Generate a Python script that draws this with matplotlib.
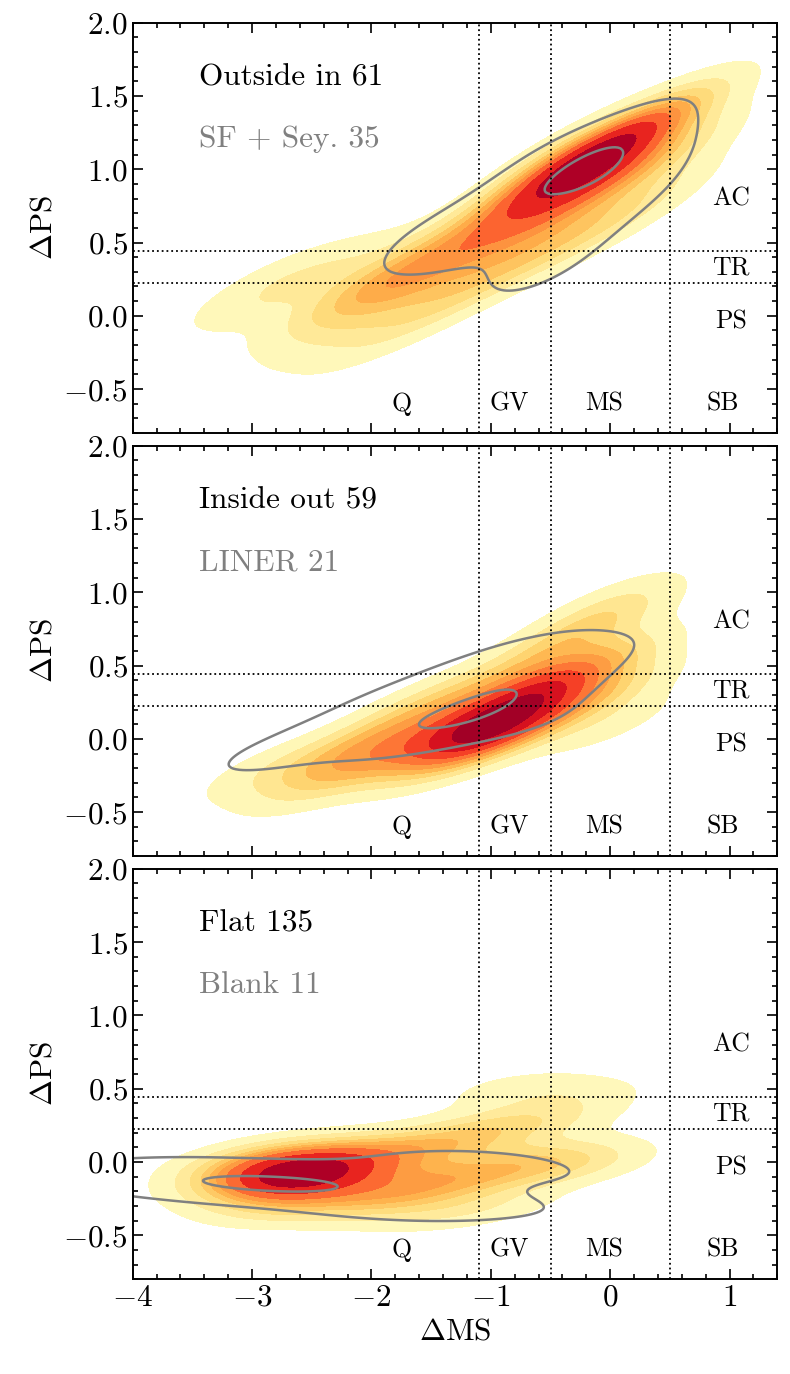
import matplotlib
matplotlib.use("Agg")
import matplotlib.pyplot as plt
from matplotlib.ticker import MultipleLocator
import seaborn as sns

plt.rcParams["font.family"] = "serif"
plt.rcParams["font.serif"] = ["cmr10"]
plt.rcParams["mathtext.fontset"] = "cm"
plt.rcParams["axes.formatter.use_mathtext"] = True

# hand-read sample points (delta MS, delta PS) for each panel
outside_in_x = [-0.5, -0.4, -0.3, -0.2, -0.1, 0.0, 0.1, -0.35, -0.15, 0.05, -0.25, 0.2, -0.6, -0.45, -0.05, -0.2, -0.1, -0.3,
                0.35, 0.45, 0.4, 0.4, 0.3, 0.4,
                -0.8, -0.7, -0.9, -1.0, -0.75, -1.1, -0.55,
                -1.3, -1.5, -1.7, -1.9, -2.1, -1.8, -1.6, -2.0, -1.4,
                -2.5, -2.7, -2.4, -3.0,
                -1.0, -0.4, -0.2, 0.2, -1.5, -2.0, -2.3]
outside_in_y = [0.85, 1.0, 0.9, 1.15, 0.95, 1.15, 1.0, 1.15, 0.85, 1.25, 1.05, 1.2, 0.95, 0.75, 1.05, 1.0, 1.1, 1.0,
                1.35, 1.4, 1.3, 1.05, 0.85, 1.1,
                0.75, 0.6, 0.5, 0.7, 0.4, 0.55, 0.6,
                0.35, 0.45, 0.25, 0.25, 0.15, 0.1, 0.3, 0.35, 0.15,
                0.25, 0.2, 0.05, 0.2,
                0.25, 0.45, 0.6, 0.7, 0.0, -0.15, -0.1]
sf_sey_x = [-0.2, -0.1, -0.25, -0.1, -0.15, -0.2, -0.15,
            0.2, 0.4, 0.5, 0.25, -0.5, -0.6, -0.9, -1.2, -1.5, -1.7, -0.3, -0.6, 0.0, -1.2, -0.85, -0.7, -0.45]
sf_sey_y = [1.0, 1.0, 0.95, 1.05, 0.98, 1.05, 1.0,
            1.25, 1.35, 1.1, 0.85, 1.1, 0.8, 0.68, 0.58, 0.52, 0.45, 0.6, 0.45, 0.75, 0.45, 0.85, 0.3, 0.35]

inside_out_x = [-1.0, -0.9, -1.1, -0.8, -1.2, -0.95, -0.7, -1.3, -1.05, -0.85, -0.6, -1.15,
                -1.5, -1.7, -1.9, -2.1, -2.3, -2.6, -2.9, -1.6, -2.0, -1.4, -2.4,
                -0.5, -0.4, -0.3, -0.2, 0.0, 0.05, -0.15, 0.0, 0.0, -0.6, -0.8, 0.0,
                -1.2, -0.6, -0.3, -1.6]
inside_out_y = [0.1, 0.0, 0.15, 0.2, -0.05, 0.15, 0.25, 0.0, -0.05, 0.05, 0.1, 0.2,
                0.0, -0.15, -0.05, -0.2, -0.1, -0.25, -0.2, 0.1, 0.05, -0.15, -0.3,
                0.35, 0.3, 0.55, 0.45, 0.8, 0.95, 0.25, 0.35, 0.55, 0.45, 0.35, 0.1,
                0.35, 0.6, 0.75, 0.25]
liner_x = [-1.3, -1.2, -1.4, -1.1, -1.6, -2.0, -2.5, -2.9, -0.7, -0.5, -0.35, -0.6, -1.8, -0.9, -1.0, -0.7]
liner_y = [0.15, 0.15, 0.1, 0.18, 0.08, 0.15, -0.05, -0.1, 0.3, 0.45, 0.55, 0.1, 0.3, 0.4, 0.5, 0.6]

flat_x = [-2.6, -2.5, -2.7, -2.4, -2.55, -2.65, -2.45, -2.8, -2.3, -2.2, -2.9, -2.5, -2.6,
          -2.0, -1.8, -1.6, -1.4, -1.2, -1.9, -1.5, -1.7, -2.1, -1.3,
          -1.0, -0.8, -0.6, -0.35, -0.25, -0.5, -0.9, -0.3, -0.8, -1.1,
          -2.9, -2.95, -2.95, -2.9, -3.0,
          -2.0, -1.5, -2.5, -1.0, -2.8]
flat_y = [-0.05, -0.15, -0.12, 0.0, 0.05, -0.2, -0.1, 0.0, -0.15, -0.05, -0.1, -0.05, -0.1,
          -0.15, 0.05, -0.15, 0.0, -0.1, -0.25, -0.2, 0.1, 0.1, 0.15,
          -0.1, 0.05, -0.05, 0.05, -0.02, 0.3, 0.25, 0.45, 0.5, 0.2,
          -0.2, -0.12, -0.05, 0.05, 0.0,
          -0.3, -0.35, -0.3, -0.3, -0.3]
blank_x = [-2.75, -2.7, -2.8, -3.6, -3.8, -2.1, -1.3, -1.3, -0.95, -1.7, -3.1]
blank_y = [-0.17, -0.18, -0.16, -0.05, -0.12, -0.15, 0.03, -0.3, -0.08, -0.32, -0.12]

main_x = [outside_in_x, inside_out_x, flat_x]
main_y = [outside_in_y, inside_out_y, flat_y]
sub_x = [sf_sey_x, liner_x, blank_x]
sub_y = [sf_sey_y, liner_y, blank_y]
main_labels = ["Outside in 61", "Inside out 59", "Flat 135"]
sub_labels = ["SF + Sey. 35", "LINER 21", "Blank 11"]

ms_cuts = [-1.1, -0.5, 0.5]
ps_cuts = [0.445, 0.225]
ms_names = ["Q", "GV", "MS", "SB"]
ms_name_x = [-1.75, -0.85, -0.05, 0.94]
ps_names = ["AC", "TR", "PS"]
ps_name_y = [0.8, 0.33, -0.04]

fig, axes = plt.subplots(3, 1, figsize=(7.9, 13.74), sharex=True)
fig.subplots_adjust(left=0.168, right=0.984, top=0.9835, bottom=0.069, hspace=0.031)

for i, ax in enumerate(axes):
    sns.kdeplot(x=main_x[i], y=main_y[i], ax=ax, fill=True, cmap="YlOrRd",
                levels=10, thresh=0.05, bw_adjust=1.0)
    sns.kdeplot(x=sub_x[i], y=sub_y[i], ax=ax, levels=[0.2, 0.9],
                color="gray", linewidths=1.8, bw_adjust=1.2)

    for c in ms_cuts:
        ax.axvline(c, color="black", ls=":", lw=1.3)
    for c in ps_cuts:
        ax.axhline(c, color="black", ls=":", lw=1.3)

    for name, xx in zip(ms_names, ms_name_x):
        ax.text(xx, -0.6, name, fontsize=18.5, ha="center", va="center")
    for name, yy in zip(ps_names, ps_name_y):
        ax.text(1.01, yy, name, fontsize=18.5, ha="center", va="center")

    ax.text(0.103, 0.848, main_labels[i], transform=ax.transAxes, fontsize=22.5, color="black")
    ax.text(0.103, 0.697, sub_labels[i], transform=ax.transAxes, fontsize=22.5, color="gray")

    ax.set_xlim(-4, 1.4)
    ax.set_ylim(-0.8, 2.0)
    ax.xaxis.set_major_locator(MultipleLocator(1))
    ax.xaxis.set_minor_locator(MultipleLocator(0.2))
    ax.yaxis.set_major_locator(MultipleLocator(0.5))
    ax.yaxis.set_minor_locator(MultipleLocator(0.1))
    ax.tick_params(which="both", direction="in", top=True, right=True, labelsize=22.5, width=1.2)
    ax.tick_params(which="major", length=7)
    ax.tick_params(which="minor", length=3.6)
    for s in ax.spines.values():
        s.set_linewidth(1.4)
    ax.set_ylabel(r"$\Delta$PS", fontsize=22.5)
    ax.set_xlabel("")

axes[-1].set_xlabel(r"$\Delta$MS", fontsize=22.5)

fig.savefig("out.png", dpi=100)
